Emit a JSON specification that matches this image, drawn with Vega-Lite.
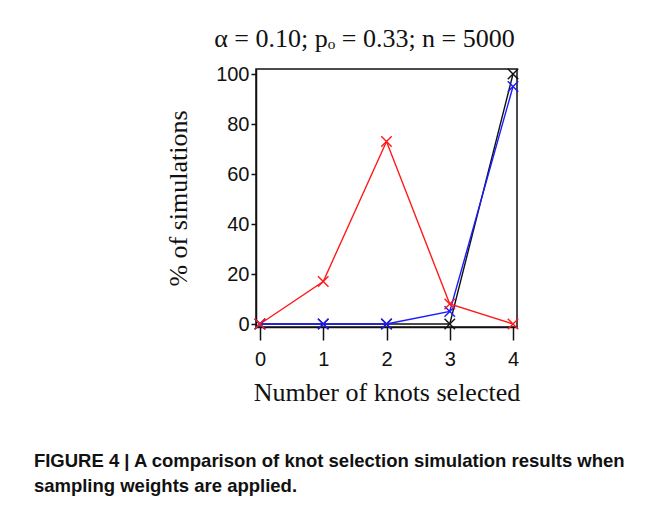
{
  "$schema": "https://vega.github.io/schema/vega-lite/v6.json",
  "background": "white",
  "padding": {"left": 33, "top": 25, "right": 10, "bottom": 5},
  "title": {
    "text": ["FIGURE 4 | A comparison of knot selection simulation results when", "sampling weights are applied."],
    "orient": "bottom",
    "anchor": "start",
    "frame": "bounds",
    "dx": -131,
    "offset": 46,
    "font": "Liberation Sans, Arial",
    "fontSize": 18.5,
    "fontWeight": "bold",
    "color": "#111111",
    "lineHeight": 25
  },
  "datasets": {
    "sims": [
      {"knots": 0, "series": "all", "pct": 0},
      {"knots": 1, "series": "all", "pct": 0},
      {"knots": 2, "series": "all", "pct": 0},
      {"knots": 3, "series": "all", "pct": 0},
      {"knots": 4, "series": "all", "pct": 100},
      {"knots": 0, "series": "weighted", "pct": 0},
      {"knots": 1, "series": "weighted", "pct": 0},
      {"knots": 2, "series": "weighted", "pct": 0},
      {"knots": 3, "series": "weighted", "pct": 5},
      {"knots": 4, "series": "weighted", "pct": 95},
      {"knots": 0, "series": "unweighted", "pct": 0},
      {"knots": 1, "series": "unweighted", "pct": 17},
      {"knots": 2, "series": "unweighted", "pct": 73},
      {"knots": 3, "series": "unweighted", "pct": 8},
      {"knots": 4, "series": "unweighted", "pct": 0}
    ]
  },
  "vconcat": [
    {
      "width": 261,
      "height": 258,
      "title": {
        "text": "α = 0.10; pₒ = 0.33; n = 5000",
        "font": "Liberation Serif, Times New Roman",
        "fontSize": 26,
        "fontWeight": "normal",
        "color": "#111111",
        "offset": 12,
        "anchor": "middle",
        "dx": -22
      },
      "data": {"name": "sims"},
      "encoding": {
        "x": {
          "field": "knots",
          "type": "quantitative",
          "scale": {"domain": [-0.063, 4.063], "nice": false, "zero": false},
          "axis": {
            "values": [0, 1, 2, 3, 4],
            "title": "Number of knots selected",
            "grid": false,
            "domain": true,
            "domainColor": "#111111",
            "domainWidth": 1.5,
            "tickColor": "#111111",
            "tickWidth": 1.5,
            "tickSize": 13,
            "labelPadding": 9,
            "labelFont": "Liberation Sans, Arial",
            "labelFontSize": 20,
            "labelColor": "#111111",
            "titleFont": "Liberation Serif, Times New Roman",
            "titleFontSize": 26,
            "titleFontWeight": "normal",
            "titleColor": "#111111",
            "titlePadding": 10
          }
        },
        "y": {
          "field": "pct",
          "type": "quantitative",
          "scale": {"domain": [-1.2, 102], "nice": false, "zero": false},
          "axis": {
            "values": [0, 20, 40, 60, 80, 100],
            "title": "% of simulations",
            "grid": false,
            "domain": true,
            "domainColor": "#111111",
            "domainWidth": 1.5,
            "tickColor": "#111111",
            "tickWidth": 1.5,
            "tickSize": 5,
            "labelPadding": 2,
            "labelFont": "Liberation Sans, Arial",
            "labelFontSize": 20,
            "labelColor": "#111111",
            "titleFont": "Liberation Serif, Times New Roman",
            "titleFontSize": 26,
            "titleFontWeight": "normal",
            "titleColor": "#111111",
            "titlePadding": 24
          }
        },
        "color": {
          "field": "series",
          "type": "nominal",
          "scale": {"domain": ["all", "weighted", "unweighted"], "range": ["#111111", "#1a1aff", "#ff1a1a"]},
          "legend": null
        }
      },
      "layer": [
        {"mark": {"type": "line", "strokeWidth": 1.4}},
        {"mark": {"type": "point", "shape": "M-1,-1L1,1M-1,1L1,-1", "filled": false, "size": 110, "strokeWidth": 1.4, "opacity": 1}}
      ]
    }
  ],
  "config": {
    "view": {"stroke": "#111111", "strokeWidth": 1.5},
    "concat": {"spacing": 0}
  }
}
